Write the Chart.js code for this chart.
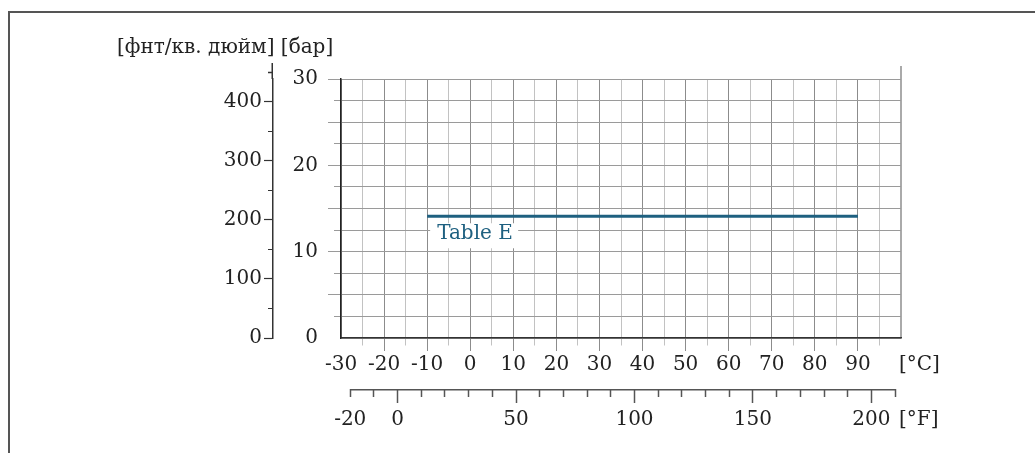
<!DOCTYPE html>
<html>
<head>
<meta charset="utf-8">
<script src="https://cdn.jsdelivr.net/npm/chart.js@4"></script>
<style>
  html, body { margin: 0; padding: 0; background: #fff; }
  #wrap { position: relative; width: 1035px; height: 453px; overflow: hidden; }
  #frame { position: absolute; left: 8px; top: 11px; right: -10px; bottom: -10px;
           border-left: 2px solid #555; border-top: 2px solid #555; }
  canvas { position: absolute; left: 0; top: 0; }
</style>
</head>
<body>
<div id="wrap">
  <div id="frame"></div>
  <canvas id="chart" width="1035" height="453"></canvas>
</div>
<script>
// data
const tempC = [-10, 90];
const pressureBar = [14.1, 14.1];
const seriesName = "Table E";

// tick labels
const celsiusLabels = [-30, -20, -10, 0, 10, 20, 30, 40, 50, 60, 70, 80, 90];
const fahrenheitTicks = [-20, -10, 0, 10, 20, 30, 40, 50, 60, 70, 80, 90, 100,
  110, 120, 130, 140, 150, 160, 170, 180, 190, 200, 210];
const fahrenheitLabels = [-20, 0, 50, 100, 150, 200];
const barLabels = [0, 10, 20, 30];
const psiTicks = [0, 50, 100, 150, 200, 250, 300, 350, 400];
const psiLabels = [0, 100, 200, 300, 400];
const psiAxisTop = 465;
const psiExtraTick = 450;

const unitTitle = "[фнт/кв. дюйм] [бар]";
const unitC = "[°C]";
const unitF = "[°F]";

Chart.defaults.font.family = "'DejaVu Serif', serif";
Chart.defaults.font.size = 20;
Chart.defaults.color = "#222";

const LINE = "#1e6080";
const CLEAR = "rgba(0,0,0,0)";
const isMult = (v, m) => Math.abs(v % m) < 1e-6;

const extras = {
  id: "extras",
  afterDraw(chart) {
    const { ctx, scales } = chart;
    const { x, y, f, psi } = scales;
    ctx.save();

    // psi axis goes on above the bar range
    ctx.strokeStyle = "#333";
    ctx.lineWidth = 1.5;
    ctx.beginPath();
    ctx.moveTo(psi.right - 0.75, psi.top);
    ctx.lineTo(psi.right - 0.75, psi.getPixelForValue(psiAxisTop));
    const t450 = Math.round(psi.getPixelForValue(psiExtraTick)) + 0.5;
    ctx.moveTo(psi.right - 5, t450);
    ctx.lineTo(psi.right, t450);
    ctx.stroke();

    // right border line sticks out above the grid
    const xr = x.getPixelForValue(100);
    ctx.strokeStyle = "#aaa";
    ctx.lineWidth = 2;
    ctx.beginPath();
    ctx.moveTo(xr, y.getPixelForValue(30));
    ctx.lineTo(xr, y.getPixelForValue(31.5));
    ctx.stroke();

    // fahrenheit axis line
    ctx.strokeStyle = "#555";
    ctx.lineWidth = 1.5;
    ctx.beginPath();
    ctx.moveTo(f.getPixelForValue(-20), f.top + 0.75);
    ctx.lineTo(f.getPixelForValue(210), f.top + 0.75);
    ctx.stroke();

    // unit labels
    ctx.fillStyle = "#222";
    ctx.font = "20px 'DejaVu Serif'";
    ctx.textBaseline = "middle";
    ctx.textAlign = "left";
    ctx.fillText(unitC, x.right - 2, x.top + 27);
    ctx.fillText(unitF, x.right - 2, f.top + 31);
    ctx.fillText(unitTitle, 117, 48);

    // series label under the line start
    const ds = chart.data.datasets[0];
    const x0 = x.getPixelForValue(tempC[0]);
    const y0 = y.getPixelForValue(pressureBar[0]);
    ctx.fillStyle = "#fff";
    ctx.fillRect(x0 + 3, y0 + 7, 88, 25);
    ctx.fillStyle = LINE;
    ctx.fillText(ds.label, x0 + 10, y0 + 18);
    ctx.restore();
  }
};

new Chart(document.getElementById("chart"), {
  type: "line",
  data: {
    datasets: [{
      label: seriesName,
      data: tempC.map((t, i) => ({ x: t, y: pressureBar[i] })),
      borderColor: LINE,
      borderWidth: 3,
      pointRadius: 0,
      fill: false,
      xAxisID: "x",
      yAxisID: "y"
    }]
  },
  options: {
    responsive: false,
    animation: false,
    layout: { padding: { left: 193, right: 134, top: 79, bottom: 14 } },
    plugins: { legend: { display: false }, tooltip: { enabled: false } },
    scales: {
      x: {
        type: "linear", position: "bottom", weight: 0,
        min: -30, max: 100,
        afterFit: s => { s.height = 51; },
        ticks: {
          stepSize: 5, autoSkip: false, maxRotation: 0, padding: 2,
          callback: v => celsiusLabels.includes(v) ? String(v) : ""
        },
        grid: {
          color: c => c.tick && c.tick.value === 100 ? "#aaa" : (c.tick && isMult(c.tick.value, 10) ? "#8c8c8c" : "#c2c2c2"),
          lineWidth: c => c.tick && c.tick.value === 100 ? 2 : 1,
          tickLength: 13,
          tickColor: c => {
            const v = c.tick ? c.tick.value : 0;
            if (v === -30 || v === 100) return CLEAR;
            return isMult(v, 10) ? "#8c8c8c" : "#c2c2c2";
          },
          tickBorderDash: c => c.tick && isMult(c.tick.value, 10) ? [] : [7, 100]
        },
        border: { color: "#333", width: 1.5 }
      },
      f: {
        type: "linear", position: "bottom", weight: 1,
        min: -23.9, max: 212.5,
        afterBuildTicks: s => { s.ticks = fahrenheitTicks.map(value => ({ value })); },
        afterFit: s => { s.height = 50; },
        ticks: {
          autoSkip: false, maxRotation: 0, padding: 5,
          callback: v => fahrenheitLabels.includes(v) ? String(v) : ""
        },
        grid: {
          drawOnChartArea: false,
          tickLength: 14,
          tickColor: "#555",
          tickWidth: 1.5,
          tickBorderDash: c => c.tick && isMult(c.tick.value, 50) ? [] : [8, 100]
        },
        border: { display: false }
      },
      y: {
        type: "linear", position: "left", weight: 0,
        min: 0, max: 30,
        afterFit: s => { s.width = 68; },
        ticks: {
          stepSize: 2.5, autoSkip: false, padding: 10,
          callback: v => barLabels.includes(v) ? String(v) : ""
        },
        grid: {
          color: "#9a9a9a",
          tickLength: 13,
          tickColor: c => c.tick && c.tick.value === 0 ? CLEAR : "#9a9a9a",
          tickBorderDash: c => c.tick && isMult(c.tick.value, 5) ? [] : [0, 6, 7, 100]
        },
        border: { color: "#222", width: 1.5 }
      },
      psi: {
        type: "linear", position: "left", weight: 1,
        min: 0, max: 438,
        afterBuildTicks: s => { s.ticks = psiTicks.map(value => ({ value })); },
        afterFit: s => { s.width = 80; },
        ticks: {
          autoSkip: false, padding: 2,
          callback: v => psiLabels.includes(v) ? String(v) : ""
        },
        grid: {
          drawOnChartArea: false,
          tickLength: 9,
          tickColor: "#333",
          tickWidth: 1.2,
          tickBorderDash: c => c.tick && isMult(c.tick.value, 100) ? [] : [0, 4, 5, 100]
        },
        border: { color: "#333", width: 1.5 }
      }
    }
  },
  plugins: [extras]
});
</script>
</body>
</html>
